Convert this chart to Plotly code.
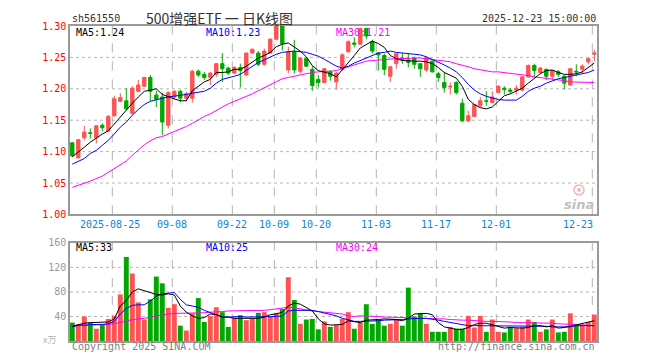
import plotly.graph_objects as go

# ---------------- data ----------------
dates = [
    "2025-08-14", "2025-08-15", "2025-08-18", "2025-08-19", "2025-08-20", "2025-08-21", "2025-08-22",
    "2025-08-25", "2025-08-26", "2025-08-27", "2025-08-28", "2025-08-29",
    "2025-09-01", "2025-09-02", "2025-09-03", "2025-09-04", "2025-09-05",
    "2025-09-08", "2025-09-09", "2025-09-10", "2025-09-11", "2025-09-12",
    "2025-09-15", "2025-09-16", "2025-09-17", "2025-09-18", "2025-09-19",
    "2025-09-22", "2025-09-23", "2025-09-24", "2025-09-25", "2025-09-26",
    "2025-09-29", "2025-09-30",
    "2025-10-09", "2025-10-10", "2025-10-13", "2025-10-14", "2025-10-15", "2025-10-16", "2025-10-17",
    "2025-10-20", "2025-10-21", "2025-10-22", "2025-10-23", "2025-10-24",
    "2025-10-27", "2025-10-28", "2025-10-29", "2025-10-30", "2025-10-31",
    "2025-11-03", "2025-11-04", "2025-11-05", "2025-11-06", "2025-11-07",
    "2025-11-10", "2025-11-11", "2025-11-12", "2025-11-13", "2025-11-14",
    "2025-11-17", "2025-11-18", "2025-11-19", "2025-11-20", "2025-11-21",
    "2025-11-24", "2025-11-25", "2025-11-26", "2025-11-27", "2025-11-28",
    "2025-12-01", "2025-12-02", "2025-12-03", "2025-12-04", "2025-12-05",
    "2025-12-08", "2025-12-09", "2025-12-10", "2025-12-11", "2025-12-12",
    "2025-12-15", "2025-12-16", "2025-12-17", "2025-12-18", "2025-12-19",
    "2025-12-22", "2025-12-23",
]

open_ = [1.114, 1.090, 1.122, 1.130, 1.122, 1.142, 1.133, 1.157, 1.180, 1.181,
         1.161, 1.196, 1.204, 1.218, 1.190, 1.187, 1.142, 1.187, 1.196, 1.185,
         1.185, 1.228, 1.223, 1.218, 1.223, 1.240, 1.233, 1.225, 1.234, 1.222,
         1.257, 1.257, 1.239, 1.257, 1.279, 1.300, 1.230, 1.259, 1.228, 1.248,
         1.231, 1.215, 1.210, 1.227, 1.211, 1.231, 1.259, 1.273, 1.271, 1.296,
         1.275, 1.257, 1.253, 1.220, 1.240, 1.249, 1.246, 1.249, 1.240, 1.230,
         1.244, 1.224, 1.210, 1.203, 1.210, 1.177, 1.149, 1.156, 1.173, 1.181,
         1.178, 1.194, 1.201, 1.198, 1.198, 1.198, 1.219, 1.237, 1.226, 1.231,
         1.220, 1.227, 1.220, 1.206, 1.228, 1.231, 1.243, 1.255]
high = [1.115, 1.119, 1.141, 1.137, 1.142, 1.145, 1.158, 1.189, 1.193, 1.201,
        1.204, 1.214, 1.219, 1.222, 1.197, 1.194, 1.196, 1.198, 1.198, 1.195,
        1.230, 1.231, 1.227, 1.227, 1.241, 1.257, 1.235, 1.236, 1.240, 1.257,
        1.264, 1.260, 1.264, 1.280, 1.300, 1.300, 1.267, 1.278, 1.250, 1.250,
        1.236, 1.222, 1.233, 1.230, 1.227, 1.257, 1.277, 1.282, 1.297, 1.297,
        1.278, 1.258, 1.256, 1.236, 1.257, 1.257, 1.257, 1.251, 1.241, 1.251,
        1.245, 1.227, 1.227, 1.210, 1.212, 1.184, 1.165, 1.176, 1.187, 1.196,
        1.196, 1.206, 1.204, 1.201, 1.206, 1.220, 1.239, 1.240, 1.235, 1.232,
        1.230, 1.230, 1.222, 1.233, 1.239, 1.239, 1.249, 1.262]
low = [1.092, 1.090, 1.118, 1.121, 1.113, 1.132, 1.132, 1.156, 1.179, 1.166,
       1.159, 1.195, 1.203, 1.180, 1.171, 1.126, 1.137, 1.183, 1.178, 1.180,
       1.178, 1.219, 1.214, 1.206, 1.219, 1.211, 1.222, 1.224, 1.202, 1.221,
       1.256, 1.236, 1.237, 1.256, 1.278, 1.261, 1.225, 1.224, 1.224, 1.235,
       1.197, 1.202, 1.209, 1.213, 1.199, 1.229, 1.258, 1.266, 1.270, 1.279,
       1.256, 1.229, 1.222, 1.211, 1.232, 1.240, 1.234, 1.232, 1.219, 1.227,
       1.226, 1.211, 1.194, 1.191, 1.191, 1.147, 1.147, 1.155, 1.170, 1.173,
       1.178, 1.193, 1.191, 1.192, 1.191, 1.196, 1.218, 1.218, 1.224, 1.214,
       1.214, 1.219, 1.199, 1.205, 1.220, 1.224, 1.239, 1.244]
close = [1.093, 1.119, 1.131, 1.129, 1.141, 1.138, 1.156, 1.184, 1.186, 1.168,
         1.201, 1.206, 1.218, 1.196, 1.183, 1.147, 1.194, 1.196, 1.185, 1.192,
         1.228, 1.222, 1.218, 1.225, 1.240, 1.232, 1.225, 1.234, 1.229, 1.257,
         1.263, 1.239, 1.260, 1.279, 1.300, 1.272, 1.259, 1.230, 1.249, 1.236,
         1.205, 1.210, 1.232, 1.220, 1.225, 1.254, 1.275, 1.271, 1.296, 1.284,
         1.260, 1.254, 1.231, 1.235, 1.256, 1.246, 1.242, 1.239, 1.232, 1.249,
         1.227, 1.218, 1.202, 1.204, 1.194, 1.149, 1.157, 1.175, 1.181, 1.180,
         1.187, 1.204, 1.199, 1.196, 1.201, 1.219, 1.237, 1.229, 1.233, 1.220,
         1.229, 1.223, 1.209, 1.232, 1.227, 1.236, 1.248, 1.257]

ma5 = [1.092, 1.099, 1.107, 1.115, 1.122, 1.128, 1.133, 1.144, 1.156, 1.166,
       1.177, 1.187, 1.196, 1.198, 1.200, 1.191, 1.187, 1.184, 1.181, 1.181,
       1.197, 1.204, 1.211, 1.215, 1.226, 1.226, 1.227, 1.231, 1.231, 1.236,
       1.243, 1.249, 1.253, 1.258, 1.267, 1.271, 1.273, 1.267, 1.260, 1.251,
       1.237, 1.229, 1.227, 1.224, 1.219, 1.230, 1.241, 1.253, 1.265, 1.271,
       1.276, 1.272, 1.266, 1.253, 1.248, 1.245, 1.244, 1.244, 1.244, 1.243,
       1.240, 1.234, 1.226, 1.221, 1.217, 1.204, 1.183, 1.175, 1.170, 1.168,
       1.171, 1.180, 1.189, 1.192, 1.196, 1.201, 1.209, 1.217, 1.224, 1.229,
       1.230, 1.226, 1.223, 1.223, 1.224, 1.227, 1.234, 1.241]
ma10 = [1.080, 1.084, 1.089, 1.097, 1.102, 1.110, 1.118, 1.128, 1.139, 1.147,
        1.158, 1.167, 1.175, 1.180, 1.183, 1.185, 1.187, 1.188, 1.189, 1.191,
        1.193, 1.194, 1.196, 1.201, 1.209, 1.215, 1.217, 1.220, 1.223, 1.229,
        1.235, 1.242, 1.246, 1.251, 1.255, 1.258, 1.259, 1.260, 1.259, 1.258,
        1.255, 1.252, 1.247, 1.242, 1.236, 1.233, 1.236, 1.241, 1.245, 1.248,
        1.253, 1.257, 1.258, 1.260, 1.258, 1.257, 1.257, 1.256, 1.254, 1.251,
        1.247, 1.243, 1.238, 1.233, 1.227, 1.218, 1.207, 1.198, 1.192, 1.188,
        1.185, 1.183, 1.182, 1.182, 1.182, 1.188, 1.196, 1.201, 1.204, 1.209,
        1.213, 1.216, 1.218, 1.220, 1.222, 1.223, 1.226, 1.230]
ma30 = [1.043, 1.046, 1.049, 1.053, 1.057, 1.061, 1.067, 1.073, 1.079, 1.085,
        1.094, 1.103, 1.111, 1.117, 1.122, 1.124, 1.128, 1.131, 1.135, 1.140,
        1.145, 1.151, 1.156, 1.160, 1.166, 1.171, 1.176, 1.180, 1.184, 1.187,
        1.192, 1.197, 1.202, 1.206, 1.211, 1.216, 1.218, 1.220, 1.223, 1.224,
        1.226, 1.227, 1.227, 1.228, 1.229, 1.232, 1.236, 1.239, 1.242, 1.244,
        1.245, 1.246, 1.247, 1.247, 1.248, 1.248, 1.249, 1.249, 1.249, 1.248,
        1.247, 1.245, 1.244, 1.243, 1.240, 1.238, 1.235, 1.232, 1.230, 1.228,
        1.227, 1.227, 1.226, 1.225, 1.223, 1.222, 1.221, 1.219, 1.218, 1.216,
        1.215, 1.214, 1.213, 1.211, 1.211, 1.210, 1.210, 1.210]

volume = [30, 27, 40, 30, 20, 26, 36, 41, 76, 137,
          110, 63, 35, 68, 105, 94, 54, 60, 25, 17,
          45, 70, 31, 41, 55, 47, 23, 38, 42, 34,
          37, 46, 47, 40, 46, 52, 104, 67, 28, 35,
          36, 19, 32, 23, 26, 36, 47, 20, 30, 60,
          28, 34, 25, 28, 36, 25, 87, 40, 45, 28,
          15, 15, 15, 23, 20, 20, 41, 22, 41, 15,
          35, 15, 14, 23, 21, 23, 35, 31, 15, 19,
          35, 14, 15, 45, 27, 27, 31, 43]
vma5 = [24, 27, 29, 30, 30, 30, 31, 36, 57, 66,
        80, 85, 82, 80, 76, 75, 77, 75, 57, 47,
        41, 37, 38, 44, 43, 39, 39, 37, 37, 37,
        36, 37, 39, 43, 44, 47, 57, 62, 60, 55,
        49, 36, 28, 26, 26, 27, 33, 32, 30, 34,
        34, 35, 36, 36, 35, 33, 37, 44, 45, 45,
        43, 30, 23, 21, 19, 19, 22, 27, 29, 29,
        26, 23, 21, 22, 21, 21, 22, 25, 25, 23,
        25, 21, 22, 24, 27, 29, 30, 33]
vma10 = [23, 26, 26, 27, 27, 27, 28, 32, 44, 53,
         58, 59, 59, 65, 73, 77, 78, 79, 68, 59,
         57, 55, 50, 46, 43, 39, 39, 40, 40, 39,
         39, 39, 39, 39, 40, 41, 49, 50, 50, 50,
         50, 48, 46, 44, 41, 37, 34, 32, 32, 32,
         33, 33, 34, 34, 35, 35, 36, 37, 37, 37,
         36, 34, 32, 30, 29, 27, 25, 25, 25, 25,
         25, 25, 24, 24, 24, 24, 24, 24, 24, 24,
         23, 23, 22, 23, 25, 25, 25, 25]
vma30 = [23, 25, 25, 26, 26, 27, 27, 28, 30, 33,
         35, 36, 37, 39, 41, 42, 44, 45, 45, 46,
         46, 46, 46, 47, 47, 48, 49, 49, 49, 49,
         49, 49, 50, 51, 52, 53, 55, 54, 52, 51,
         49, 48, 47, 47, 46, 44, 41, 40, 41, 41,
         41, 40, 39, 39, 39, 38, 38, 37, 37, 37,
         37, 36, 36, 35, 34, 34, 34, 33, 33, 32,
         32, 32, 31, 31, 30, 30, 29, 29, 29, 29,
         29, 28, 28, 27, 27, 26, 25, 25]

date_ticks = ["2025-08-25", "2025-09-08", "2025-09-22", "2025-10-09", "2025-10-20",
              "2025-11-03", "2025-11-17", "2025-12-01", "2025-12-23"]
date_tick_text = ["2025-08-25", "09-08", "09-22", "10-09", "10-20", "11-03", "11-17", "12-01", "12-23"]
price_ticks = [1.00, 1.05, 1.10, 1.15, 1.20, 1.25, 1.30]
vol_ticks = [40, 80, 120, 160]

# ---------------- styling ----------------
RED = "#ff5252"
GREEN = "#00a800"
FRAME = "#9a9a9a"
GRID = "#b4b4b4"
MONO = "DejaVu Sans Mono, Liberation Mono, monospace"
OFF = 8  # page body margin of the browser
W, H = 660 - OFF, 360 - OFF
ML, MR, MT, MB = 70 - OFF, 63, 20 - OFF, 19
PH = H - MT - MB
PW = W - ML - MR


def py(ypx):
    # window pixel y -> paper fraction
    return (H - MB - (ypx - OFF)) / PH


def px(xpx):
    # window pixel x -> paper fraction
    return (xpx - OFF - ML) / PW


fig = go.Figure()
fig.add_trace(go.Candlestick(
    x=dates, open=open_, high=high, low=low, close=close,
    increasing=dict(line=dict(color=RED, width=1), fillcolor=RED),
    decreasing=dict(line=dict(color=GREEN, width=1), fillcolor=GREEN),
    whiskerwidth=0, xaxis="x", yaxis="y", hoverinfo="skip"))
for series, col in ((ma30, "#ff00ff"), (ma10, "#0000ff"), (ma5, "#000000")):
    fig.add_trace(go.Scatter(x=dates, y=series, mode="lines",
                             line=dict(color=col, width=1), xaxis="x", yaxis="y",
                             hoverinfo="skip"))

vol_colors = [RED if c >= o else GREEN for o, c in zip(open_, close)]
fig.add_trace(go.Bar(x=dates, y=volume, marker=dict(color=vol_colors, line=dict(width=0)),
                     width=0.82, xaxis="x2", yaxis="y2", hoverinfo="skip"))
for series, col in ((vma30, "#ff00ff"), (vma10, "#0000ff"), (vma5, "#000000")):
    fig.add_trace(go.Scatter(x=dates, y=series, mode="lines",
                             line=dict(color=col, width=1), xaxis="x2", yaxis="y2",
                             hoverinfo="skip"))

n = len(dates)
xr = [-0.383, n - 1 + 0.45]
ax_common = dict(type="category", range=xr, showticklabels=False, showgrid=False,
                 zeroline=False, showline=True, mirror=True, linecolor=FRAME, linewidth=1.5,
                 ticks="", fixedrange=True)

shapes = []
for v in price_ticks[1:-1]:
    shapes.append(dict(type="line", xref="x domain", yref="y", x0=0, x1=1, y0=v, y1=v,
                       line=dict(color=GRID, width=1, dash="dot"), layer="below"))
for v in vol_ticks[:-1]:
    shapes.append(dict(type="line", xref="x2 domain", yref="y2", x0=0, x1=1, y0=v, y1=v,
                       line=dict(color=GRID, width=1, dash="dot"), layer="below"))
for d in date_ticks:
    k = dates.index(d) - 0.33
    for yr in ("y domain", "y2 domain"):
        shapes.append(dict(type="line", xref="x", yref=yr, x0=k, x1=k, y0=0, y1=1,
                           line=dict(color=GRID, width=1, dash="dash"), layer="below"))
# sina eye logo (decorative mark)
shapes.append(dict(type="circle", xref="paper", yref="paper",
                   x0=px(574), x1=px(584), y0=py(192), y1=py(182),
                   line=dict(color="#f6b4b4", width=1.5), fillcolor="rgba(0,0,0,0)"))
shapes.append(dict(type="circle", xref="paper", yref="paper",
                   x0=px(577), x1=px(581), y0=py(189), y1=py(185),
                   line=dict(width=0), fillcolor="#f6b4b4"))


def xwin(idx):
    # window pixel x of a category index (6 px per trading day)
    return OFF + ML + (idx - xr[0]) * PW / (xr[1] - xr[0])


ann = []
for d, t in zip(date_ticks, date_tick_text):
    k = dates.index(d) - 0.33
    xc = xwin(k)
    if d == date_ticks[-1]:
        xc = 578
    elif d == date_ticks[0]:
        xc -= 2
    ann.append(dict(x=px(xc), y=py(222), text=t, xanchor="center",
                    font=dict(family=MONO, size=10, color="#0a86d2")))

ann += [
    dict(x=px(70), y=py(12), text="sh561550", xanchor="left", font=dict(family=MONO, size=10, color="#333333")),
    dict(x=px(598), y=py(12), text="2025-12-23 15:00:00", xanchor="right", font=dict(family=MONO, size=10, color="#333333")),
    dict(x=px(74), y=py(27), text="MA5:1.24", xanchor="left"),
    dict(x=px(204), y=py(27), text="MA10:1.23", xanchor="left", font=dict(family=MONO, size=10, color="#0000ff")),
    dict(x=px(334), y=py(27), text="MA30:1.21", xanchor="left", font=dict(family=MONO, size=10, color="#ff00ff")),
    dict(x=px(74), y=py(246), text="MA5:33", xanchor="left"),
    dict(x=px(204), y=py(246), text="MA10:25", xanchor="left", font=dict(family=MONO, size=10, color="#0000ff")),
    dict(x=px(334), y=py(246), text="MA30:24", xanchor="left", font=dict(family=MONO, size=10, color="#ff00ff")),
    dict(x=px(70), y=py(347), text="Copyright 2025 SINA.COM", xanchor="left",
         font=dict(family=MONO, size=10, color="#808080")),
    dict(x=px(597), y=py(347), text="http://finance.sina.com.cn", xanchor="right",
         font=dict(family=MONO, size=10, color="#808080")),
    dict(x=px(58), y=py(339), text="x万", xanchor="right",
         font=dict(family="Noto Sans CJK SC", size=9, color="#b0b0b0")),
    dict(x=px(219), y=py(12), text="500增强ETF 一 日K线图", xanchor="center",
         font=dict(family="Noto Sans CJK SC", size=14, color="#333333")),
    dict(x=px(596), y=py(202), text="<b><i>sina</i></b>", xanchor="right",
         font=dict(family="DejaVu Sans", size=13, color="#c0c0c0")),
]
for a in ann:
    a.setdefault("xref", "paper")
    a.setdefault("yref", "paper")
    a.setdefault("showarrow", False)
    a.setdefault("yanchor", "middle")
    a.setdefault("font", dict(family=MONO, size=10, color="#000000"))

fig.update_layout(
    width=W, height=H, margin=dict(l=ML, r=MR, t=MT, b=MB, pad=0),
    paper_bgcolor="white", plot_bgcolor="white", showlegend=False,
    boxgap=0.2, bargap=0.2,
    xaxis=dict(domain=[0, 1], anchor="y", rangeslider=dict(visible=False), **ax_common),
    xaxis2=dict(domain=[0, 1], anchor="y2", matches="x", **ax_common),
    yaxis=dict(domain=[py(212), 1], range=[1.0, 1.3], tickvals=price_ticks,
               ticktext=["%.2f" % v for v in price_ticks],
               tickfont=dict(family=MONO, size=10, color="#ff0000"),
               showgrid=False, zeroline=False, showline=True, mirror=True,
               linecolor=FRAME, linewidth=1.5, ticks="", fixedrange=True),
    yaxis2=dict(domain=[0, py(241)], range=[0, 160], tickvals=vol_ticks,
                ticktext=[str(v) for v in vol_ticks],
                tickfont=dict(family=MONO, size=10, color="#999999"),
                showgrid=False, zeroline=False, showline=True, mirror=True,
                linecolor=FRAME, linewidth=1.5, ticks="", fixedrange=True),
    shapes=shapes, annotations=ann,
)

fig.write_html("out.html")
